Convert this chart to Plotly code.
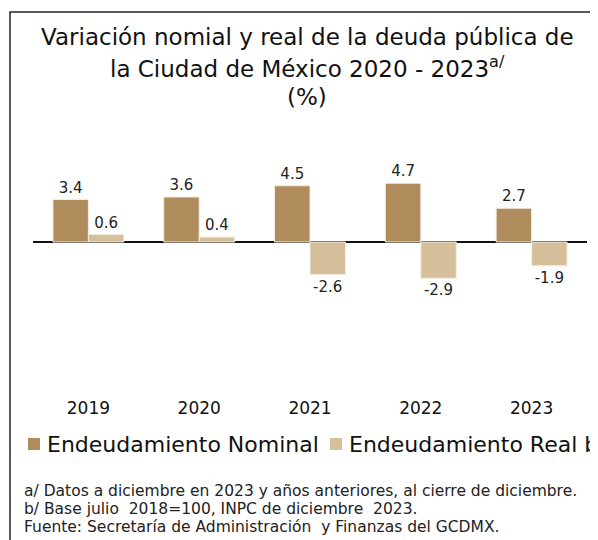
import plotly.graph_objects as go

years = ["2019", "2020", "2021", "2022", "2023"]
nominal = [3.4, 3.6, 4.5, 4.7, 2.7]
real = [0.6, 0.4, -2.6, -2.9, -1.9]
series_names = ["Endeudamiento Nominal", "Endeudamiento Real b/"]
colors = ["#B08B5B", "#D6C09B"]
title_lines = ["Variación nomial y real de la deuda pública de",
               "la Ciudad de México 2020 - 2023<sup>a/</sup>",
               "(%)"]
notes = ["a/ Datos a diciembre en 2023 y años anteriores, al cierre de diciembre.",
         "b/ Base julio  2018=100, INPC de diciembre  2023.",
         "Fuente: Secretaría de Administración  y Finanzas del GCDMX."]

FONT = "DejaVu Sans"
OFF = 8  # page body margin
W, H = 598 - OFF, 540 - OFF
# plot area in reference-page pixels
PL, PR, PT, PB = 33, 587, 140, 396
L, R, T, B = PL - OFF, W - (PR - OFF), PT - OFF, H - (PB - OFF)
PW, PH = PR - PL, PB - PT


def px(x):
    return (x - PL) / PW


def py(y):
    return (PB - y) / PH


fig = go.Figure()
for name, vals, col in zip(series_names, [nominal, real], colors):
    fig.add_trace(go.Bar(
        x=years, y=vals, name=name, marker=dict(color=col, line=dict(color="#F3ECE0", width=1)),
        text=[f"{v:.1f}" for v in vals], textposition="outside",
        textfont=dict(family=FONT, size=15, color="#222"), cliponaxis=False,
    ))

ann = []
for t, y in zip(title_lines, [37, 67, 97]):
    ann.append(dict(text=t, x=px(307), y=py(y), xref="paper", yref="paper", showarrow=False,
                    xanchor="center", yanchor="middle", font=dict(family=FONT, size=23, color="#111")))
for t, y in zip(notes, [491, 509, 527]):
    ann.append(dict(text=t, x=px(22), y=py(y), xref="paper", yref="paper", showarrow=False,
                    xanchor="left", yanchor="middle", font=dict(family=FONT, size=15.5, color="#222")))

shapes = []
for name, col, sx in zip(series_names, colors, [28, 330]):
    shapes.append(dict(type="rect", xref="paper", yref="paper", x0=px(sx), x1=px(sx + 12),
                       y0=py(450), y1=py(438), fillcolor=col, line=dict(width=0)))
    ann.append(dict(text=name, x=px(sx + 17), y=py(444), xref="paper", yref="paper", showarrow=False,
                    xanchor="left", yanchor="middle", font=dict(family=FONT, size=22, color="#111")))

shapes.append(dict(type="path", xref="paper", yref="paper",
                   path=f"M {px(10)} {py(560)} L {px(10)} {py(12)} L {px(620)} {py(12)}",
                   line=dict(color="#222", width=1.5)))

fig.update_layout(
    width=W, height=H, margin=dict(l=L, r=R, t=T, b=B),
    paper_bgcolor="white", plot_bgcolor="white",
    barmode="group", bargap=0.36, bargroupgap=0,
    showlegend=False, annotations=ann, shapes=shapes,
    xaxis=dict(showgrid=False, showline=False, ticks="", tickfont=dict(family=FONT, size=17, color="#111")),
    yaxis=dict(range=[-(PB - 242) / 12.5, (242 - PT) / 12.5], showgrid=False, showticklabels=False,
               zeroline=True, zerolinecolor="#111", zerolinewidth=1.5, showline=False),
)
fig.write_html("out.html")
